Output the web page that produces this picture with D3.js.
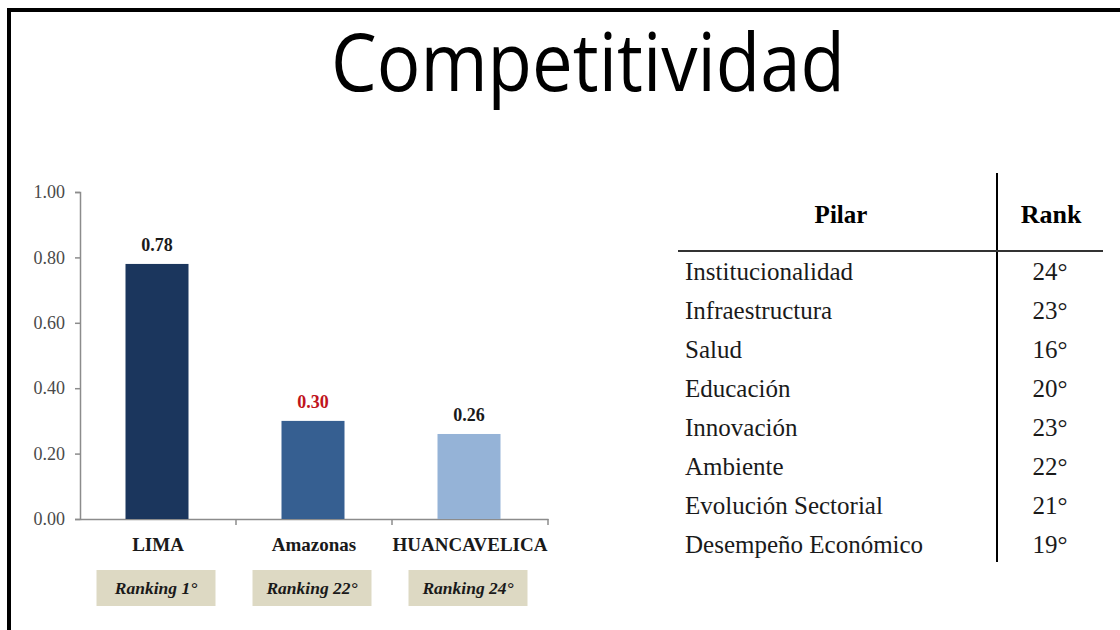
<!DOCTYPE html>
<html>
<head>
<meta charset="utf-8">
<script src="https://cdn.jsdelivr.net/npm/d3@7"></script>
<style>
  html, body { margin: 0; padding: 0; background: #fff; }
  svg { display: block; }
</style>
</head>
<body>
<svg id="chart" width="1120" height="630"></svg>
<script>
// data
const regions = ["LIMA", "Amazonas", "HUANCAVELICA"];
const scores = [0.78, 0.30, 0.26];
const rankings = ["Ranking 1°", "Ranking 22°", "Ranking 24°"];
const barColors = ["#1b365d", "#365f91", "#95b3d7"];
const labelColors = ["#1a1a1a", "#c0141c", "#1a1a1a"];
const yTicks = [0, 0.2, 0.4, 0.6, 0.8, 1.0];

const pilares = ["Institucionalidad", "Infraestructura", "Salud", "Educación",
  "Innovación", "Ambiente", "Evolución Sectorial", "Desempeño Económico"];
const pilarRank = ["24°", "23°", "16°", "20°", "23°", "22°", "21°", "19°"];

const W = 1120, H = 630;
const svg = d3.select("#chart");
const serif = "'Liberation Serif', 'Times New Roman', serif";

// frame (top + left edges only show)
svg.append("line").attr("x1", 7).attr("x2", W).attr("y1", 10).attr("y2", 10)
  .attr("stroke", "#000").attr("stroke-width", 4);
svg.append("line").attr("x1", 9).attr("x2", 9).attr("y1", 8).attr("y2", H)
  .attr("stroke", "#000").attr("stroke-width", 4);

// title
svg.append("text")
  .attr("x", 588).attr("y", 91)
  .attr("text-anchor", "middle")
  .style("font-family", "'Open Sans', 'Noto Sans', sans-serif")
  .style("font-size", "80px")
  .attr("textLength", 514)
  .attr("lengthAdjust", "spacingAndGlyphs")
  .text("Competitividad");

// bar chart
const x = d3.scaleBand().domain(regions).range([80, 548]).paddingInner(0).paddingOuter(0);
const y = d3.scaleLinear().domain([0, 1]).range([519, 192]);

const gy = svg.append("g").attr("transform", "translate(80,0)")
  .call(d3.axisLeft(y).tickValues(yTicks).tickFormat(d3.format(".2f")).tickSize(5).tickPadding(10));
gy.select(".domain").attr("stroke", "#8c8c8c").attr("stroke-width", 1.5);
gy.selectAll(".tick line").attr("stroke", "#8c8c8c").attr("stroke-width", 1.5);
gy.selectAll(".tick text").style("font-family", serif).style("font-size", "18px").attr("fill", "#4a4a4a");

const gx = svg.append("g").attr("transform", "translate(0,519)")
  .call(d3.axisBottom(x).tickSize(0).tickFormat(""));
gx.select(".domain").attr("stroke", "#8c8c8c").attr("stroke-width", 1.5);
// separators between categories
gx.selectAll(".sep").data(regions).enter().append("line")
  .attr("x1", d => x(d) + x.bandwidth()).attr("x2", d => x(d) + x.bandwidth())
  .attr("y1", 0).attr("y2", 6)
  .attr("stroke", "#8c8c8c").attr("stroke-width", 1.5);

const barW = 63;
svg.selectAll(".bar").data(regions).enter().append("rect")
  .attr("x", d => x(d) + x.bandwidth() / 2 - barW / 2 - 1)
  .attr("y", (d, i) => y(scores[i]))
  .attr("width", barW)
  .attr("height", (d, i) => y(0) - y(scores[i]))
  .attr("fill", (d, i) => barColors[i]);

svg.selectAll(".val").data(regions).enter().append("text")
  .attr("x", d => x(d) + x.bandwidth() / 2 - 1)
  .attr("y", (d, i) => y(scores[i]) - 13)
  .attr("text-anchor", "middle")
  .style("font-family", serif).style("font-size", "18px").style("font-weight", "bold")
  .attr("fill", (d, i) => labelColors[i])
  .text((d, i) => d3.format(".2f")(scores[i]));

svg.selectAll(".cat").data(regions).enter().append("text")
  .attr("x", d => x(d) + x.bandwidth() / 2)
  .attr("y", 551)
  .attr("text-anchor", "middle")
  .style("font-family", serif).style("font-size", "19px").style("font-weight", "bold")
  .attr("fill", "#1a1a1a")
  .text(d => d);

// ranking boxes
const boxW = 119, boxH = 36;
svg.selectAll(".rbox").data(regions).enter().append("rect")
  .attr("x", d => x(d) + x.bandwidth() / 2 - boxW / 2 - 2)
  .attr("y", 570)
  .attr("width", boxW).attr("height", boxH)
  .attr("fill", "#ddd9c3");
svg.selectAll(".rtxt").data(regions).enter().append("text")
  .attr("x", d => x(d) + x.bandwidth() / 2 - 2)
  .attr("y", 594)
  .attr("text-anchor", "middle")
  .style("font-family", serif).style("font-size", "17.5px")
  .style("font-weight", "bold").style("font-style", "italic")
  .attr("fill", "#1a1a1a")
  .text((d, i) => rankings[i]);

// table
const rowY = d3.scaleBand().domain(pilares).range([252, 563]);
svg.append("line").attr("x1", 997).attr("x2", 997).attr("y1", 173).attr("y2", 562)
  .attr("stroke", "#000").attr("stroke-width", 2);
svg.append("line").attr("x1", 678).attr("x2", 1103).attr("y1", 251).attr("y2", 251)
  .attr("stroke", "#333").attr("stroke-width", 2);

svg.append("text").attr("x", 841).attr("y", 223).attr("text-anchor", "middle")
  .style("font-family", serif).style("font-size", "25px").style("font-weight", "bold")
  .text("Pilar");
svg.append("text").attr("x", 1051).attr("y", 223).attr("text-anchor", "middle")
  .style("font-family", serif).style("font-size", "26px").style("font-weight", "bold")
  .text("Rank");

svg.selectAll(".pilar").data(pilares).enter().append("text")
  .attr("x", 685)
  .attr("y", d => rowY(d) + rowY.bandwidth() / 2 + 9)
  .style("font-family", serif).style("font-size", "25px")
  .attr("fill", "#1a1a1a")
  .text(d => d);
svg.selectAll(".rank").data(pilares).enter().append("text")
  .attr("x", 1050)
  .attr("y", d => rowY(d) + rowY.bandwidth() / 2 + 9)
  .attr("text-anchor", "middle")
  .style("font-family", serif).style("font-size", "25px")
  .attr("fill", "#1a1a1a")
  .text((d, i) => pilarRank[i]);
</script>
</body>
</html>
